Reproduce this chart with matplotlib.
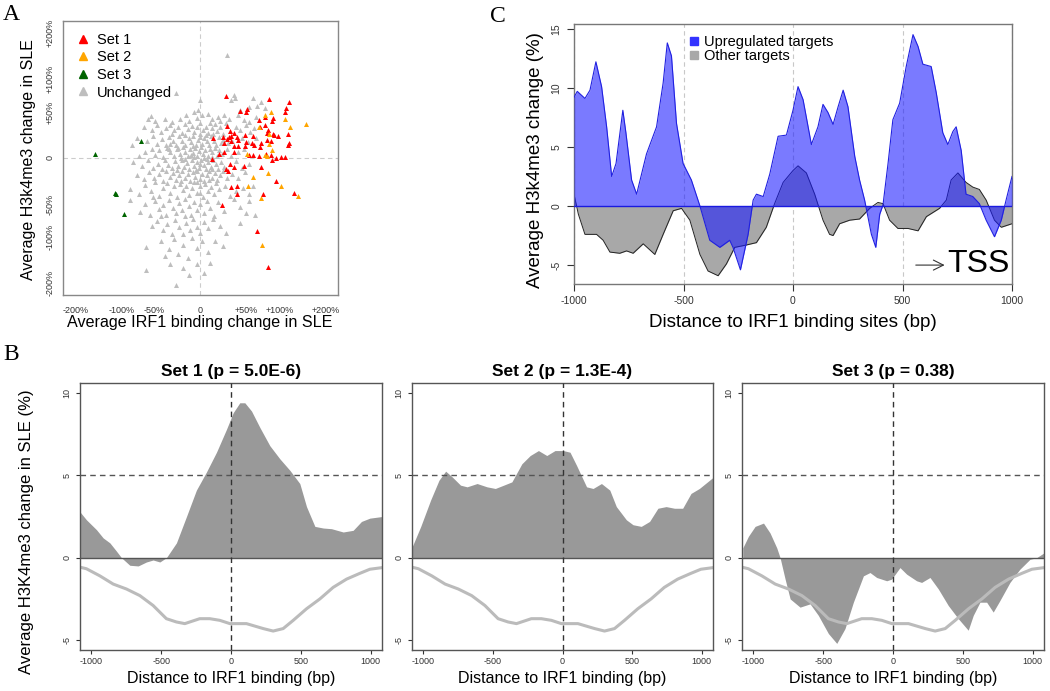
import matplotlib
matplotlib.use('Agg')
import matplotlib.pyplot as plt
import numpy as np
from matplotlib.lines import Line2D

plt.rcParams['font.family'] = ['Liberation Sans', 'DejaVu Sans']
plt.rcParams['axes.unicode_minus'] = False

# ---------------- Panel A data (log2-type change, signed) ----------------
set1_x = [0.32,0.50,0.59,0.58,0.87,1.08,1.07,1.12,0.74,0.82,0.92,0.91,0.82,0.86,0.75,0.34,0.37,0.36,0.39,0.42,
          0.28,0.33,0.30,0.39,0.46,0.48,0.42,0.47,0.56,0.67,0.58,0.65,0.56,0.68,0.76,0.75,0.84,0.89,0.93,0.98,
          1.11,1.12,1.11,0.84,0.92,0.16,0.30,0.23,0.42,0.61,0.67,0.74,0.83,0.89,0.95,1.02,1.07,0.91,0.15,0.32,
          0.35,0.37,0.42,0.55,0.76,0.95,0.39,0.46,0.46,0.79,1.18,0.27,0.71,0.86]
set1_y = [0.79,0.60,0.62,0.59,0.75,0.63,0.59,0.71,0.48,0.52,0.51,0.47,0.42,0.36,0.39,0.41,0.34,0.27,0.28,0.32,
          0.27,0.24,0.19,0.21,0.27,0.23,0.15,0.15,0.29,0.28,0.20,0.19,0.15,0.16,0.19,0.14,0.23,0.21,0.29,0.28,
          0.30,0.19,0.16,0.32,0.30,0.25,0.08,0.05,0.08,0.04,0.04,0.03,0.05,0.04,0.00,0.01,0.01,-0.02,-0.01,-0.14,
          -0.16,-0.08,-0.11,-0.10,-0.11,-0.29,-0.37,-0.36,-0.46,-0.46,-0.45,-0.60,-0.93,-1.38]
set2_x = [0.89,0.82,1.07,1.13,0.74,0.87,0.87,1.34,0.59,0.82,0.84,0.91,0.86,0.66,0.60,1.02,1.24,0.77,0.78]
set2_y = [0.58,0.54,0.50,0.40,0.39,0.30,0.18,0.43,0.05,0.04,0.02,0.10,-0.19,-0.24,-0.36,-0.35,-0.48,-0.51,-1.11]
set3_x = [-1.34,-0.75,-1.08,-1.07,-0.97]
set3_y = [0.05,0.22,-0.45,-0.46,-0.71]
unch_x = [0.34,-0.31,0.00,0.42,0.39,0.44,0.67,0.82,0.71,-0.03,0.50,0.62,0.77,
          -0.63,-0.66,-0.58,-0.45,-0.36,-0.26,-0.18,-0.08,-0.05,0.02,0.10,0.14,0.22,0.25,0.30,0.36,0.47,0.55,0.62,0.70,0.12,-0.14,
          -0.72,-0.62,-0.55,-0.50,-0.44,-0.39,-0.33,-0.29,-0.24,-0.20,-0.16,-0.11,-0.08,-0.04,0.00,0.03,0.07,0.10,0.14,0.18,0.21,0.25,0.28,0.32,0.45,0.50,0.58,0.63,0.68,-0.36,-0.01,0.16,
          -0.87,-0.80,-0.68,-0.60,-0.55,-0.49,-0.44,-0.40,-0.35,-0.31,-0.27,-0.23,-0.19,-0.15,-0.12,-0.09,-0.06,-0.03,0.00,0.02,0.05,0.08,0.11,0.13,0.17,0.20,0.23,0.26,0.35,0.40,0.52,0.60,0.70,-0.20,0.07,-0.38,-0.10,0.28,
          -0.78,-0.70,-0.62,-0.57,-0.52,-0.47,-0.43,-0.38,-0.34,-0.30,-0.26,-0.22,-0.19,-0.16,-0.13,-0.10,-0.07,-0.04,-0.02,0.01,0.03,0.06,0.09,0.12,0.15,0.18,0.21,0.24,0.27,0.33,0.38,0.48,0.55,-0.25,-0.08,0.05,0.14,-0.40,-0.28,-0.12,
          -0.85,-0.74,-0.66,-0.60,-0.54,-0.49,-0.45,-0.41,-0.36,-0.32,-0.28,-0.24,-0.21,-0.17,-0.14,-0.11,-0.08,-0.05,-0.02,0.01,0.04,0.07,0.10,0.13,0.16,0.19,0.22,0.26,0.30,0.45,0.52,0.62,-0.30,-0.19,0.00,0.08,-0.06,0.15,
          -0.80,-0.72,-0.65,-0.59,-0.53,-0.48,-0.44,-0.39,-0.35,-0.31,-0.27,-0.23,-0.20,-0.16,-0.13,-0.10,-0.07,-0.04,-0.01,0.02,0.05,0.08,0.11,0.14,0.18,0.21,0.25,0.29,0.33,0.40,0.48,0.56,-0.25,-0.05,0.11,
          -0.89,-0.78,-0.70,-0.63,-0.57,-0.52,-0.47,-0.43,-0.39,-0.34,-0.30,-0.26,-0.22,-0.18,-0.15,-0.11,-0.08,-0.04,-0.01,0.03,0.06,0.09,0.13,0.17,0.20,0.24,0.31,0.37,0.45,0.54,0.62,0.67,-0.60,0.00,
          -0.89,-0.76,-0.70,-0.64,-0.58,-0.53,-0.48,-0.44,-0.40,-0.35,-0.31,-0.27,-0.23,-0.19,-0.15,-0.12,-0.08,-0.04,0.00,0.04,0.08,0.12,0.17,0.22,0.30,0.42,0.50,0.62,0.69,0.58,-0.50,-0.20,
          -0.55,-0.48,-0.42,-0.36,-0.32,-0.27,-0.22,-0.18,-0.13,-0.09,-0.05,0.00,0.05,0.10,0.16,0.25,0.32,0.50,-0.62,
          -0.69,-0.50,-0.40,-0.34,-0.28,-0.22,-0.16,-0.11,-0.05,0.02,0.09,0.18,0.28,-0.45,
          -0.69,-0.31,-0.15,0.04,-0.38,-0.05,0.12,-0.22]
unch_y = [1.31,0.82,0.74,0.80,0.74,0.76,0.76,0.63,0.66,0.61,0.61,0.65,0.71,
          0.53,0.49,0.47,0.50,0.46,0.49,0.55,0.58,0.51,0.54,0.56,0.50,0.52,0.47,0.55,0.50,0.55,0.48,0.46,0.52,0.45,0.47,
          0.40,0.36,0.42,0.33,0.38,0.42,0.35,0.40,0.32,0.43,0.37,0.41,0.33,0.39,0.44,0.35,0.40,0.32,0.38,0.43,0.34,0.40,0.31,0.44,0.40,0.35,0.42,0.33,0.38,0.31,0.30,0.30,
          0.17,0.25,0.22,0.28,0.18,0.24,0.16,0.27,0.21,0.17,0.28,0.22,0.16,0.26,0.20,0.28,0.17,0.23,0.27,0.18,0.25,0.21,0.16,0.28,0.22,0.17,0.27,0.19,0.19,0.22,0.25,0.20,0.26,0.29,0.29,0.18,0.15,0.23,
          0.02,0.08,0.12,0.04,0.10,0.01,0.13,0.07,0.02,0.11,0.05,0.14,0.08,0.02,0.11,0.06,0.13,0.03,0.09,0.14,0.05,0.10,0.02,0.12,0.07,0.13,0.03,0.10,0.05,0.12,0.02,0.08,0.12,0.00,0.01,0.00,0.01,0.12,0.13,0.04,
          -0.05,-0.10,-0.03,-0.13,-0.07,-0.14,-0.02,-0.09,-0.13,-0.04,-0.10,-0.02,-0.12,-0.06,-0.14,-0.03,-0.10,-0.05,-0.13,-0.02,-0.09,-0.14,-0.05,-0.11,-0.03,-0.08,-0.14,-0.05,-0.11,-0.04,-0.13,-0.08,-0.15,-0.01,-0.07,-0.01,-0.15,-0.14,
          -0.22,-0.27,-0.18,-0.25,-0.20,-0.29,-0.17,-0.24,-0.19,-0.28,-0.21,-0.16,-0.26,-0.20,-0.29,-0.18,-0.24,-0.17,-0.27,-0.20,-0.29,-0.22,-0.16,-0.25,-0.19,-0.28,-0.22,-0.17,-0.25,-0.20,-0.26,-0.18,-0.29,-0.30,-0.28,
          -0.40,-0.46,-0.34,-0.42,-0.31,-0.48,-0.38,-0.32,-0.44,-0.36,-0.49,-0.33,-0.41,-0.35,-0.47,-0.38,-0.31,-0.44,-0.36,-0.49,-0.33,-0.42,-0.37,-0.46,-0.32,-0.40,-0.35,-0.48,-0.42,-0.38,-0.46,-0.35,-0.49,-0.45,
          -0.53,-0.68,-0.58,-0.72,-0.55,-0.65,-0.60,-0.72,-0.53,-0.63,-0.70,-0.57,-0.66,-0.52,-0.61,-0.73,-0.56,-0.66,-0.58,-0.70,-0.54,-0.63,-0.74,-0.56,-0.67,-0.52,-0.62,-0.55,-0.72,-0.70,-0.74,-0.74,
          -0.80,-0.92,-0.84,-0.96,-0.79,-0.88,-0.97,-0.82,-0.91,-0.78,-0.87,-0.95,-0.81,-0.89,-0.78,-0.86,-0.95,-0.83,-0.86,
          -1.13,-1.05,-1.15,-1.03,-1.22,-1.10,-1.27,-1.02,-1.14,-1.06,-1.20,-1.05,-1.12,-1.25,
          -1.42,-1.61,-1.49,-1.46,-1.35,-1.35,-1.33,-1.40]
a_ticks_pct = [-200, -100, -50, 0, 50, 100, 200]
a_tick_labels = ['-200%', '-100%', '-50%', '0', '+50%', '+100%', '+200%']

# ---------------- Panel C data ----------------
up_x = [-1000,-985,-950,-927,-900,-874,-851,-828,-808,-777,-763,-737,-714,-669,-623,-593,-574,-555,-532,-502,
        -464,-425,-380,-334,-289,-274,-240,-205,-182,-167,-136,-106,-68,-30,0,23,46,84,114,137,160,183,206,229,
        251,282,304,327,358,378,396,411,434,456,487,517,548,571,593,631,654,684,707,730,745,768,790,821,851,882,
        920,951,973,1000]
up_y = [9.2,9.7,9.1,9.8,12.2,10.1,6.7,2.5,3.6,8.1,6.2,2.2,1.0,4.4,6.7,10.4,13.8,12.7,7.0,3.6,
        2.2,0.0,-2.9,-3.5,-2.9,-3.5,-5.4,-2.4,0.5,1.0,0.8,2.7,5.9,6.0,8.1,10.1,9.0,5.2,6.7,8.6,7.9,6.9,8.4,9.8,
        8.4,4.2,2.2,0.5,-2.4,-3.5,-0.7,0.1,3.6,7.3,8.7,11.8,14.5,13.5,12.0,11.8,9.6,6.2,5.2,6.3,6.7,4.7,1.0,0.8,0.2,-1.2,
        -2.6,-1.2,0.5,2.5]
oth_x = [-1000,-980,-950,-897,-867,-836,-791,-760,-730,-684,-631,-593,-547,-509,-471,-425,-388,-342,-304,-266,
         -213,-167,-122,-84,-45,0,23,61,99,137,167,183,213,259,304,350,388,411,441,479,525,571,609,669,700,722,
         753,790,821,851,882,920,951,1000]
oth_y = [1.0,-0.7,-2.4,-2.4,-2.9,-3.9,-4.0,-3.8,-4.0,-3.2,-4.1,-2.4,-0.4,-0.2,-1.2,-4.1,-5.5,-5.9,-4.9,-3.5,
         -3.3,-3.1,-1.8,0.2,2.0,3.0,3.4,2.8,1.0,-1.2,-2.4,-2.5,-1.5,-1.2,-1.1,-0.2,0.3,0.2,-1.2,-1.9,-1.9,-2.1,-0.9,-0.2,0.5,2.2,
         2.8,2.0,1.6,1.4,0.5,-1.2,-1.8,-1.5]
c_xticks = [-1000, -500, 0, 500, 1000]
c_yticks = [-5, 0, 5, 10, 15]

# ---------------- Panel B data ----------------
bg_x = [-1084,-1036,-940,-844,-749,-653,-558,-463,-391,-331,-224,-152,-80,-8,111,231,302,374,446,541,637,732,828,923,995,1084]
bg_y = [-0.57,-0.67,-1.1,-1.6,-1.9,-2.3,-2.9,-3.7,-3.9,-4.0,-3.7,-3.7,-3.8,-4.0,-4.0,-4.3,-4.45,-4.3,-3.8,-3.1,-2.5,-1.8,-1.3,-0.95,-0.7,-0.6]
s1_x = [-1084,-1036,-964,-916,-868,-821,-785,-725,-665,-606,-558,-510,-463,-391,-319,-248,-176,-104,-32,16,63,99,147,207,278,350,422,493,541,601,661,720,804,875,935,995,1084]
s1_y = [2.8,2.3,1.7,1.2,0.9,0.4,0.0,-0.46,-0.5,-0.26,-0.14,-0.26,0.0,0.9,2.5,4.1,5.2,6.4,7.8,8.8,9.4,9.4,8.9,7.9,6.8,6.0,5.3,4.5,3.1,1.9,1.8,1.76,1.56,1.66,2.2,2.4,2.5]
s2_x = [-1079,-1019,-948,-888,-840,-793,-733,-686,-614,-543,-483,-423,-364,-292,-232,-173,-113,-54,6,54,101,173,220,280,340,387,459,507,566,626,686,745,805,864,924,984,1079]
s2_y = [0.7,1.9,3.5,4.7,5.25,4.9,4.4,4.3,4.5,4.3,4.2,4.4,4.6,5.7,6.2,6.5,6.2,6.5,6.5,6.4,5.6,4.3,4.2,4.5,4.1,3.1,2.3,2.0,1.9,2.2,3.0,3.1,3.0,3.0,3.9,4.2,4.85]
s3_x = [-1076,-1036,-988,-928,-881,-833,-809,-773,-737,-666,-594,-535,-463,-403,-344,-284,-212,-165,-117,-45,-10,50,98,169,205,265,325,396,468,539,575,623,671,718,766,838,909,981,1029,1083]
s3_y = [0.6,1.3,1.9,2.1,1.5,0.6,0.0,-1.3,-2.5,-3.0,-2.8,-3.5,-4.6,-5.2,-4.3,-2.7,-1.1,-0.9,-1.2,-1.4,-1.3,-0.6,-1.0,-1.4,-1.5,-1.2,-1.9,-2.9,-3.7,-4.4,-3.5,-2.7,-2.7,-3.3,-2.6,-1.5,-0.7,-0.1,0.0,0.3]
b_titles = ['Set 1 (p = 5.0E-6)', 'Set 2 (p = 1.3E-4)', 'Set 3 (p = 0.38)']
b_xticks = [-1000, -500, 0, 500, 1000]
b_yticks = [-5, 0, 5, 10]

W, H = 1050, 691
fig = plt.figure(figsize=(W / 100, H / 100), dpi=100)

def fx(px):
    return px / W

def fy(py):
    return 1 - py / H

def box(l, t, r, b):
    return [fx(l), fy(b), fx(r) - fx(l), fy(t) - fy(b)]

# ================= Panel A =================
axA = fig.add_axes(box(63, 21, 338, 295))
axA.set_xlim(-1.74, 1.74)
axA.set_ylim(-1.74, 1.74)
axA.axvline(0, color='#cccccc', lw=0.8, ls=(0, (4, 3)), zorder=0)
axA.axhline(0, color='#cccccc', lw=0.8, ls=(0, (4, 3)), zorder=0)
ms = 13
axA.scatter(unch_x, unch_y, marker='^', s=ms, color='#BEBEBE', linewidths=0, zorder=2)
axA.scatter(set1_x, set1_y, marker='^', s=ms, color='#FF0000', linewidths=0, zorder=3)
axA.scatter(set2_x, set2_y, marker='^', s=ms, color='#FFA500', linewidths=0, zorder=3)
axA.scatter(set3_x, set3_y, marker='^', s=ms, color='#006400', linewidths=0, zorder=3)
tpos = [np.sign(p) * np.log2(1 + abs(p) / 100.0) for p in a_ticks_pct]
axA.set_xticks(tpos)
axA.set_xticklabels(a_tick_labels)
axA.set_yticks(tpos)
axA.set_yticklabels(a_tick_labels, rotation=90, va='center')
axA.tick_params(length=0, labelsize=6.5, colors='#333333')
axA.tick_params(axis='x', pad=8)
axA.tick_params(axis='y', pad=6)
for s in axA.spines.values():
    s.set_color('#888888')
    s.set_linewidth(1.0)
handles = [Line2D([], [], marker='^', ls='none', color=c, markersize=6)
           for c in ['#FF0000', '#FFA500', '#006400', '#BEBEBE']]
axA.legend(handles, ['Set 1', 'Set 2', 'Set 3', 'Unchanged'], loc='upper left',
           bbox_to_anchor=(0.0, 1.0), frameon=False, fontsize=10.5,
           handletextpad=0.3, labelspacing=0.25, borderaxespad=0.4, handlelength=1.2)
fig.text(fx(200), fy(323), 'Average IRF1 binding change in SLE', ha='center', va='center', fontsize=11.6)
fig.text(fx(28), fy(160), 'Average H3k4me3 change in SLE', ha='center', va='center', fontsize=11.5, rotation=90)
fig.text(fx(3), fy(15), 'A', ha='left', va='center', fontsize=17, family='Liberation Serif')

# ================= Panel C =================
axC = fig.add_axes(box(574, 24, 1012, 284))
axC.set_xlim(-1000, 1000)
axC.set_ylim(-6.6, 15.4)
for v in c_xticks:
    axC.axvline(v, color='#c8c8c8', lw=0.8, ls=(0, (4, 3)), zorder=0)
axC.fill_between(oth_x, oth_y, 0, color='#A8A8A8', lw=0, zorder=1)
axC.plot(oth_x, oth_y, color='#222222', lw=0.7, zorder=2)
axC.fill_between(up_x, up_y, 0, color=(0.1, 0.1, 1.0, 0.58), lw=0, zorder=3)
axC.plot(up_x, up_y, color='#2020E0', lw=0.8, zorder=4)
axC.axhline(0, color='#1a1aE0', lw=1.0, zorder=5)
axC.set_xticks(c_xticks)
axC.set_yticks(c_yticks)
axC.set_yticklabels([str(v) for v in c_yticks], rotation=90, va='center')
axC.tick_params(labelsize=7.5, length=5, pad=4, colors='#333333')
for s in axC.spines.values():
    s.set_color('#777777')
    s.set_linewidth(1.0)
lh = [Line2D([], [], marker='s', ls='none', color='#3333FF', markersize=6),
      Line2D([], [], marker='s', ls='none', color='#A8A8A8', markersize=6)]
axC.legend(lh, ['Upregulated targets', 'Other targets'], loc='upper left',
           bbox_to_anchor=(0.24, 0.99), frameon=False, fontsize=10.5,
           handletextpad=0.3, labelspacing=-0.05, handlelength=0.8, borderaxespad=0.2)
axC.annotate('', xy=(705, -5.0), xytext=(548, -5.0),
             arrowprops=dict(arrowstyle='->', color='#333333', lw=0.8, mutation_scale=18), zorder=6)
axC.text(848, -4.9, 'TSS', ha='center', va='center', fontsize=23, zorder=6)
fig.text(fx(535), fy(160), 'Average H3k4me3 change (%)', ha='center', va='center', fontsize=13.5, rotation=90)
fig.text(fx(793), fy(322), 'Distance to IRF1 binding sites (bp)', ha='center', va='center', fontsize=13.6)
fig.text(fx(490), fy(16), 'C', ha='left', va='center', fontsize=17, family='Liberation Serif')

# ================= Panel B =================
b_boxes = [(80, 383, 382, 650), (412, 383, 713, 650), (742, 383, 1044, 650)]
b_data = [(s1_x, s1_y), (s2_x, s2_y), (s3_x, s3_y)]
for i, (bb, (xs, ys), title) in enumerate(zip(b_boxes, b_data, b_titles)):
    ax = fig.add_axes(box(*bb))
    ax.set_xlim(-1082, 1082)
    ax.set_ylim(-5.6, 10.6)
    ax.fill_between(xs, ys, 0, color='#999999', lw=0, zorder=1)
    ax.plot(bg_x, bg_y, color='#BBBBBB', lw=2.2, zorder=2)
    ax.axhline(0, color='#555555', lw=1.0, zorder=3)
    ax.axhline(5, color='#555555', lw=1.0, ls=(0, (4, 3)), zorder=3)
    ax.axvline(0, color='#333333', lw=1.0, ls=(0, (4, 3)), zorder=3)
    ax.set_xticks(b_xticks)
    ax.set_yticks(b_yticks)
    ax.set_yticklabels([str(v) for v in b_yticks], rotation=90, va='center')
    ax.tick_params(labelsize=6.5, length=3, pad=3, colors='#333333')
    ax.tick_params(axis='x', pad=2)
    for s in ax.spines.values():
        s.set_color('#555555')
        s.set_linewidth(1.0)
    cx = (bb[0] + bb[2]) / 2
    fig.text(fx(cx), fy(372), title, ha='center', va='center', fontsize=12.5, fontweight='bold')
    fig.text(fx(cx), fy(678), 'Distance to IRF1 binding (bp)', ha='center', va='center', fontsize=11.5)
fig.text(fx(27), fy(532), 'Average H3K4me3 change in SLE (%)', ha='center', va='center', fontsize=12, rotation=90)
fig.text(fx(3), fy(355), 'B', ha='left', va='center', fontsize=17, family='Liberation Serif')

fig.savefig('out.png', dpi=100)
